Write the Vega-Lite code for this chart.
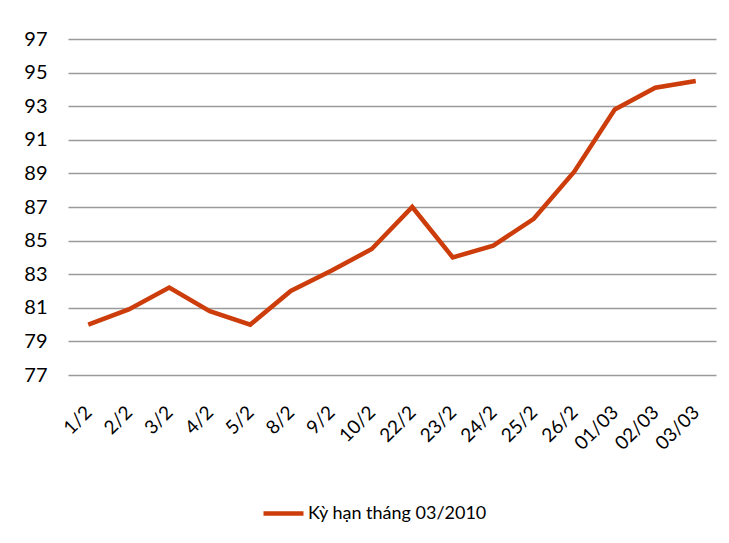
{
  "$schema": "https://vega.github.io/schema/vega-lite/v6.json",
  "width": 648,
  "height": 336,
  "autosize": {"type": "none"},
  "padding": {"left": 68, "top": 39, "right": 13, "bottom": 168},
  "background": "white",
  "config": {
    "view": {"stroke": null},
    "font": "Lato"
  },
  "data": {
    "values": [
      {"date": "1/2", "value": 80.0, "series": "Kỳ hạn tháng 03/2010"},
      {"date": "2/2", "value": 80.9, "series": "Kỳ hạn tháng 03/2010"},
      {"date": "3/2", "value": 82.2, "series": "Kỳ hạn tháng 03/2010"},
      {"date": "4/2", "value": 80.8, "series": "Kỳ hạn tháng 03/2010"},
      {"date": "5/2", "value": 80.0, "series": "Kỳ hạn tháng 03/2010"},
      {"date": "8/2", "value": 82.0, "series": "Kỳ hạn tháng 03/2010"},
      {"date": "9/2", "value": 83.2, "series": "Kỳ hạn tháng 03/2010"},
      {"date": "10/2", "value": 84.5, "series": "Kỳ hạn tháng 03/2010"},
      {"date": "22/2", "value": 87.0, "series": "Kỳ hạn tháng 03/2010"},
      {"date": "23/2", "value": 84.0, "series": "Kỳ hạn tháng 03/2010"},
      {"date": "24/2", "value": 84.7, "series": "Kỳ hạn tháng 03/2010"},
      {"date": "25/2", "value": 86.3, "series": "Kỳ hạn tháng 03/2010"},
      {"date": "26/2", "value": 89.1, "series": "Kỳ hạn tháng 03/2010"},
      {"date": "01/03", "value": 92.8, "series": "Kỳ hạn tháng 03/2010"},
      {"date": "02/03", "value": 94.1, "series": "Kỳ hạn tháng 03/2010"},
      {"date": "03/03", "value": 94.5, "series": "Kỳ hạn tháng 03/2010"}
    ]
  },
  "mark": {"type": "line", "strokeWidth": 4.5, "strokeJoin": "miter", "strokeCap": "butt"},
  "encoding": {
    "x": {
      "field": "date",
      "type": "ordinal",
      "sort": null,
      "scale": {"type": "point", "padding": 0.5},
      "axis": {
        "title": null,
        "domain": false,
        "ticks": false,
        "grid": false,
        "labelAngle": -45,
        "labelAlign": "right",
        "labelBaseline": "middle",
        "labelPadding": 34,
        "labelFontSize": 19,
        "labelColor": "#000000",
        "labelFont": "Lato",
        "labelLimit": 0
      }
    },
    "y": {
      "field": "value",
      "type": "quantitative",
      "scale": {"domain": [77, 97], "zero": false, "nice": false},
      "axis": {
        "title": null,
        "values": [77, 79, 81, 83, 85, 87, 89, 91, 93, 95, 97],
        "domain": false,
        "ticks": false,
        "grid": true,
        "gridColor": "#9a9a9a",
        "gridWidth": 1.5,
        "labelPadding": 21,
        "labelFontSize": 20,
        "labelColor": "#000000",
        "labelFont": "Lato"
      }
    },
    "color": {
      "field": "series",
      "type": "nominal",
      "scale": {"range": ["#CC3D0B"]},
      "legend": {
        "title": null,
        "orient": "none",
        "legendX": 193,
        "legendY": 452,
        "symbolType": "stroke",
        "symbolSize": 1600,
        "symbolStrokeWidth": 4.5,
        "labelFontSize": 18,
        "labelFont": "Lato",
        "labelColor": "#000000",
        "labelOffset": 2,
        "labelLimit": 0
      }
    }
  }
}
